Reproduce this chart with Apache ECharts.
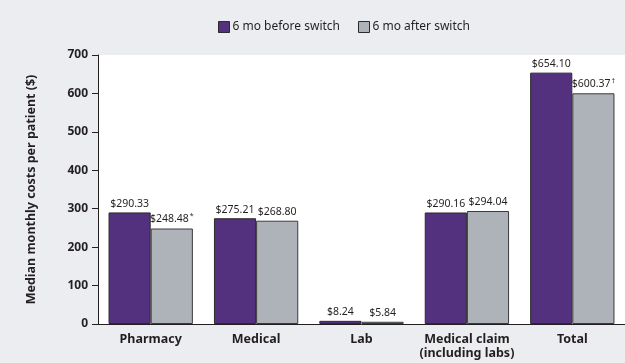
<!DOCTYPE html>
<html>
<head>
<meta charset="utf-8">
<script src="https://cdn.jsdelivr.net/npm/echarts@6/dist/echarts.min.js"></script>
<style>
  html, body { margin: 0; padding: 0; background: #ecedf0; }
  #chart { width: 625px; height: 363px; }
</style>
</head>
<body>
<div id="chart"></div>
<script>
var categories = ['Pharmacy', 'Medical', 'Lab', 'Medical claim\n(including labs)', 'Total'];
var beforeValues = [290.33, 275.21, 8.24, 290.16, 654.10];
var afterValues = [248.48, 268.80, 5.84, 294.04, 600.37];
var afterMarks = ['*', '', '', '', '†'];
var seriesNames = ['6 mo before switch', '6 mo after switch'];

(function() {
  var purple = '#53317f';
  var grey = '#aeb3ba';
  var ink = '#231f20';
  var font = 'Noto Sans';

  var chart = echarts.init(document.getElementById('chart'), null, { renderer: 'canvas' });

  function labelStyle(marks) {
    return {
      show: true,
      position: 'top',
      distance: 3,
      color: ink,
      fontFamily: font,
      fontSize: 10.5,
      formatter: function(p) {
        var txt = '$' + p.value.toFixed(2);
        var m = marks ? marks[p.dataIndex] : '';
        return m ? txt + '{sup|' + m + '}' : txt;
      },
      rich: {
        sup: { fontSize: 7, verticalAlign: 'top', padding: [0, 0, 6, 1], color: ink, fontFamily: font }
      }
    };
  }

  chart.setOption({
    backgroundColor: '#ecedf0',
    textStyle: { fontFamily: font },
    legend: {
      data: seriesNames,
      top: 16,
      left: 213,
      icon: 'rect',
      itemWidth: 11,
      itemHeight: 11,
      itemGap: 18,
      itemStyle: { borderColor: '#2b2b2b', borderWidth: 1 },
      textStyle: { color: ink, fontSize: 12, fontFamily: font, padding: [0, 0, 0, -2] },
      selectedMode: false
    },
    grid: {
      left: 98,
      right: 0,
      top: 55,
      bottom: 39,
      show: true,
      backgroundColor: '#ffffff',
      borderWidth: 0
    },
    xAxis: {
      type: 'category',
      data: categories,
      axisLine: { lineStyle: { color: ink, width: 1 } },
      axisTick: { show: false },
      axisLabel: {
        interval: 0,
        color: ink,
        fontWeight: 'bold',
        fontSize: 12.5,
        fontFamily: font,
        margin: 8,
        lineHeight: 14
      }
    },
    yAxis: {
      type: 'value',
      min: 0,
      max: 700,
      interval: 100,
      name: 'Median monthly costs per patient ($)',
      nameLocation: 'middle',
      nameGap: 60,
      nameTextStyle: { color: ink, fontWeight: 'bold', fontSize: 12.5, fontFamily: font },
      axisLine: { show: true, lineStyle: { color: ink, width: 1 } },
      axisTick: { show: true, length: 6, lineStyle: { color: ink } },
      splitLine: { show: false },
      axisLabel: { color: ink, fontWeight: 'bold', fontSize: 12, fontFamily: font, margin: 10 }
    },
    series: [
      {
        name: seriesNames[0],
        type: 'bar',
        data: beforeValues,
        barGap: '0%',
        barCategoryGap: '20%',
        animation: false,
        itemStyle: { color: purple, borderColor: '#2b2b2b', borderWidth: 1 },
        label: labelStyle(null)
      },
      {
        name: seriesNames[1],
        type: 'bar',
        data: afterValues,
        animation: false,
        itemStyle: { color: grey, borderColor: '#3a3a3a', borderWidth: 1 },
        label: labelStyle(afterMarks)
      }
    ]
  });

  window.addEventListener('resize', function() { chart.resize(); });
})();
</script>
</body>
</html>
